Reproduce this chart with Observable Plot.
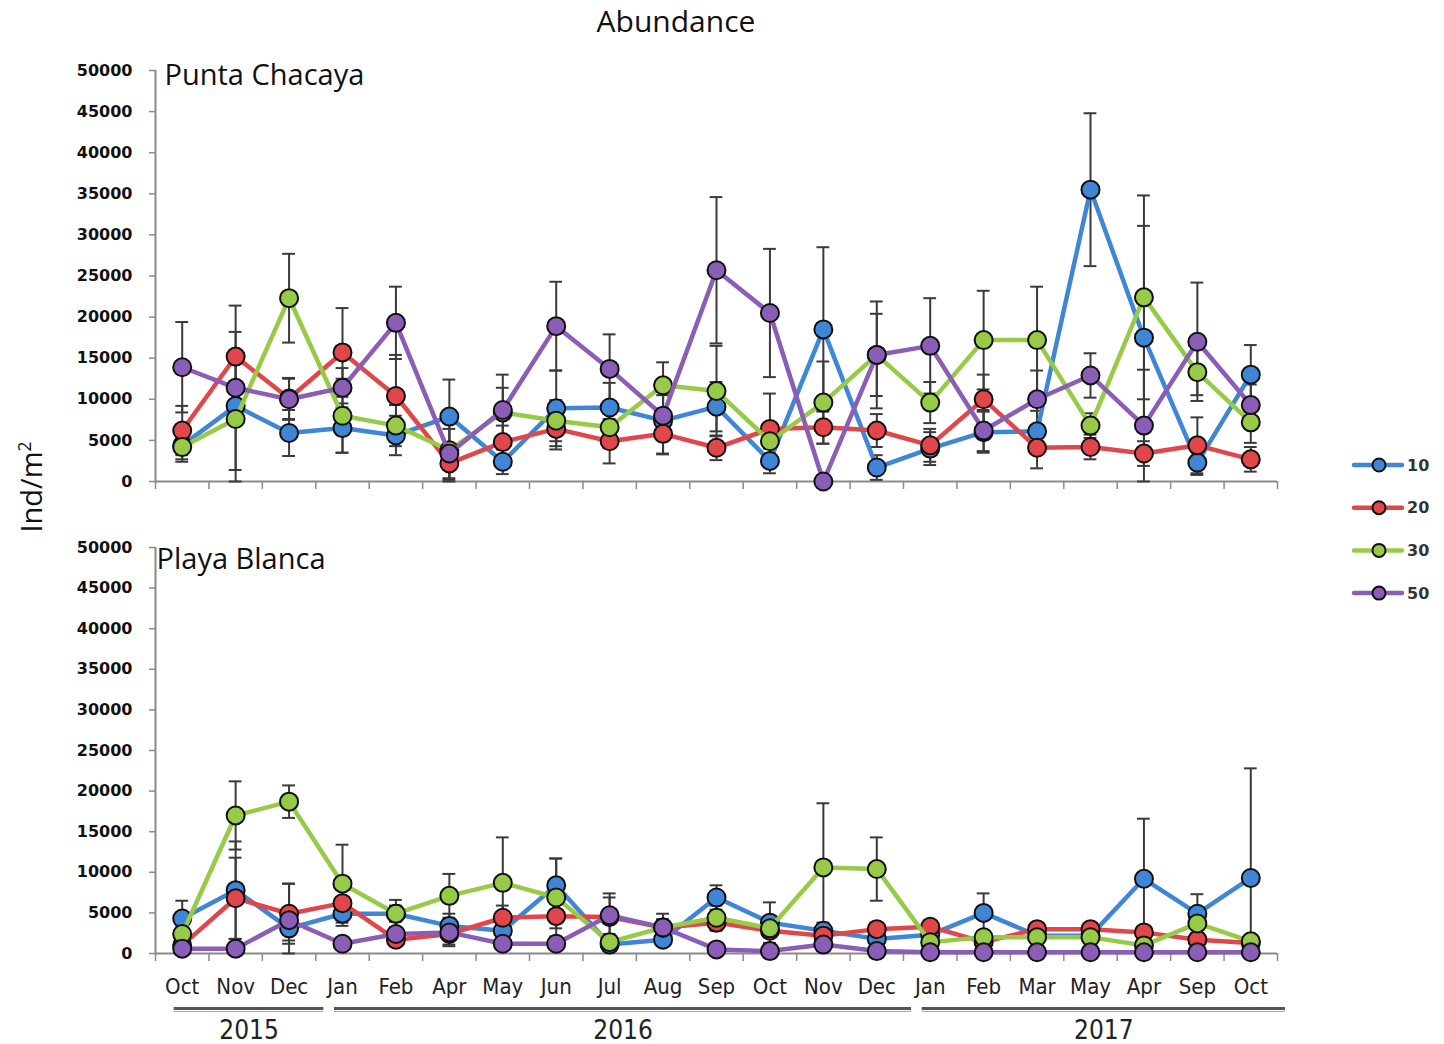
<!DOCTYPE html>
<html>
<head>
<meta charset="utf-8">
<script src="https://cdn.jsdelivr.net/npm/d3@7"></script>
<script src="https://cdn.jsdelivr.net/npm/@observablehq/plot@0.6"></script>
<style>
  html, body { margin: 0; padding: 0; background: #fff; }
  #wrap { position: relative; width: 1444px; height: 1044px; overflow: hidden; background: #fff; }
  #wrap > * { position: absolute; }
  .title { font-family: "Open Sans", Lato, sans-serif; font-size: 30px; color: #111; }
</style>
</head>
<body>
<div id="wrap"></div>
<script>
// ---------- data ----------
const months = ["Oct","Nov","Dec","Jan","Feb","Apr","May","Jun","Jul","Aug","Sep","Oct","Nov","Dec","Jan","Feb","Mar","May","Apr","Sep","Oct"];
const years = ["2015","2016","2017"];
const yearFirst = [0, 3, 14];
const yearLast = [2, 13, 20];
const seriesNames = ["10","20","30","50"];
const seriesColors = ["#3f87d6","#e0464a","#97ca47","#8a5db6"];
const yTicks = [0,5000,10000,15000,20000,25000,30000,35000,40000,45000,50000];

// Punta Chacaya means
const pc10 = [4400, 9200, 5900, 6500, 5600, 7900, 2400, 8900, 9000, 7400, 9100, 2500, 18500, 1700, 4000, 6000, 6100, 35500, 17500, 2300, 13000];
const pc20 = [6200, 15200, 10100, 15700, 10400, 2200, 4800, 6400, 4900, 5800, 4100, 6400, 6600, 6200, 4400, 10000, 4100, 4200, 3400, 4400, 2700];
const pc30 = [4200, 7600, 22300, 8000, 6800, 3800, 8400, 7400, 6600, 11700, 11000, 4900, 9600, 15400, 9600, 17200, 17200, 6800, 22400, 13300, 7200];
const pc50 = [13900, 11400, 10000, 11400, 19300, 3400, 8700, 18900, 13700, 8000, 25700, 20500, 0, 15400, 16500, 6200, 10000, 12900, 6800, 17000, 9300];
// Punta Chacaya errors
const pcE10 = [2000, 1500, 2800, 3000, 2400, 4500, 1500, 4600, 3000, 4000, 3000, 1500, 10000, 1500, 2000, 2500, 2500, 9300, 13600, 1500, 3600];
const pcE20 = [3000, 3000, 2500, 5400, 5000, 2000, 2000, 2500, 2700, 2500, 1500, 4300, 2000, 2000, 2000, 3000, 2500, 1500, 1500, 3400, 1500];
const pcE30 = [1500, 7600, 5400, 4500, 2500, 3800, 3000, 2500, 2500, 2800, 5500, 1500, 5000, 5000, 2500, 6000, 6500, 1500, 12400, 2800, 2500];
const pcE50 = [5500, 10000, 2500, 2400, 4400, 3000, 4300, 5400, 4200, 2500, 8900, 7800, 0, 6500, 5800, 2500, 3500, 2700, 6800, 7200, 2500];

// Playa Blanca means
const pb10 = [4300, 7800, 3100, 4900, 4900, 3400, 2800, 8400, 1100, 1700, 6900, 3800, 2800, 1800, 2300, 5000, 2200, 2200, 9200, 4900, 9300];
const pb20 = [1000, 6800, 4900, 6200, 1700, 2400, 4400, 4600, 4500, 3200, 3800, 2800, 2200, 3000, 3300, 1400, 3000, 3000, 2600, 1700, 1300];
const pb30 = [2400, 17000, 18700, 8600, 4900, 7100, 8700, 6900, 1400, 3200, 4400, 3100, 10600, 10400, 1400, 2000, 2000, 2000, 1000, 3700, 1500];
const pb50 = [600, 600, 4100, 1200, 2400, 2600, 1200, 1200, 4700, 3200, 500, 300, 1100, 300, 150, 150, 150, 150, 150, 150, 150];
// Playa Blanca errors
const pbE10 = [2200, 6000, 1500, 1500, 1000, 1500, 1000, 3300, 500, 500, 1500, 2500, 1000, 500, 500, 2400, 500, 500, 7400, 2400, 13500];
const pbE20 = [500, 5000, 3700, 2000, 800, 1500, 1500, 1500, 2400, 1000, 1000, 800, 800, 800, 800, 500, 500, 500, 500, 500, 300];
const pbE30 = [800, 4200, 2000, 4800, 1700, 2700, 5600, 4800, 1000, 1000, 1500, 1000, 7900, 3900, 500, 500, 500, 500, 500, 500, 500];
const pbE50 = [300, 300, 4500, 500, 500, 1500, 300, 300, 2700, 1700, 200, 200, 500, 200, 100, 100, 100, 100, 100, 100, 100];

// ---------- helpers ----------
const W = 1340, ML = 155, MR = W - 1277;
const bounds = d3.range(months.length + 1).map(i => i - 0.5);
const capHalf = 0.12;
const axisGray = "#8a8a8a";

function rows(means, errs) {
  const out = [];
  seriesNames.forEach((s, k) => means[k].forEach((v, i) => out.push({s, k, i, v, e: errs[k][i]})));
  return out;
}

function panelMarks(label, data, labelDx, labelDy) {
  const marks = [
    Plot.ruleX([-0.5], {stroke: axisGray, strokeWidth: 2}),
    Plot.ruleY([0], {stroke: axisGray, strokeWidth: 2}),
    Plot.axisY({ticks: yTicks, tickSize: 6, tickPadding: 17, tickFormat: d => String(d), label: null,
                stroke: axisGray, strokeWidth: 1.5, fill: "#111", fontWeight: "bold", fontSize: 16}),
    Plot.axisX({ticks: bounds, tickSize: 8, tickFormat: () => "", label: null, stroke: axisGray, strokeWidth: 1.5}),
    // error bars
    Plot.ruleX(data, {x: "i", y1: d => Math.max(0, d.v - d.e), y2: d => d.v + d.e, stroke: "#3a3a3a", strokeWidth: 2}),
    Plot.ruleY(data, {y: d => d.v + d.e, x1: d => d.i - capHalf, x2: d => d.i + capHalf, stroke: "#3a3a3a", strokeWidth: 2}),
    Plot.ruleY(data, {y: d => Math.max(0, d.v - d.e), x1: d => d.i - capHalf, x2: d => d.i + capHalf, stroke: "#3a3a3a", strokeWidth: 2})
  ];
  seriesNames.forEach((s, k) => {
    const sd = data.filter(d => d.s === s);
    marks.push(Plot.line(sd, {x: "i", y: "v", stroke: seriesColors[k], strokeWidth: 4.5}));
    marks.push(Plot.dot(sd, {x: "i", y: "v", r: 9, fill: seriesColors[k], stroke: "#111", strokeWidth: 2}));
  });
  marks.push(Plot.text([label], {frameAnchor: "top-left", textAnchor: "start", lineAnchor: "middle",
    dx: labelDx, dy: labelDy, fontSize: 29, fill: "#111", fontFamily: "'Open Sans', Lato, sans-serif"}));
  return marks;
}

const baseStyle = {background: "transparent", overflow: "visible", fontFamily: "'DejaVu Sans', sans-serif", fontSize: "15px"};

// ---------- top panel ----------
const topPlot = Plot.plot({
  width: W, height: 500,
  marginLeft: ML, marginRight: MR, marginTop: 70, marginBottom: 19,
  x: {domain: [-0.5, months.length - 0.5]},
  y: {domain: [0, 50000]},
  style: baseStyle,
  marks: panelMarks("Punta Chacaya", rows([pc10, pc20, pc30, pc50], [pcE10, pcE20, pcE30, pcE50]), 9, 5)
});
topPlot.style.left = "0px"; topPlot.style.top = "0px";

// ---------- bottom panel ----------
const yearRows = years.map((y, j) => ({y, a: yearFirst[j] - 0.15, b: yearLast[j] + 0.65}));
const bottomMarks = panelMarks("Playa Blanca", rows([pb10, pb20, pb30, pb50], [pbE10, pbE20, pbE30, pbE50]), 1, 12);
bottomMarks.push(
  Plot.text(months, {x: (d, i) => i, y: 0, dy: 33, text: d => d, fontSize: 22, fill: "#222",
    fontFamily: "'Liberation Sans Narrow', 'DejaVu Sans Condensed', sans-serif"}),
  Plot.ruleY(yearRows, {y: 0, x1: "a", x2: "b", dy: 55, stroke: "#555", strokeWidth: 3}),
  Plot.ruleY(yearRows, {y: 0, x1: "a", x2: "b", dy: 58, stroke: "#aaa", strokeWidth: 1}),
  Plot.text(yearRows, {x: d => (d.a + d.b) / 2, y: 0, dy: 77, text: "y", fontSize: 26, fill: "#222",
    fontFamily: "'Liberation Sans Narrow', 'DejaVu Sans Condensed', sans-serif"})
);
const bottomPlot = Plot.plot({
  width: W, height: 544,
  marginLeft: ML, marginRight: MR, marginTop: 47, marginBottom: 91,
  x: {domain: [-0.5, months.length - 0.5]},
  y: {domain: [0, 50000]},
  style: baseStyle,
  marks: bottomMarks
});
bottomPlot.style.left = "0px"; bottomPlot.style.top = "500px";

const wrap = document.getElementById("wrap");
wrap.appendChild(topPlot);
wrap.appendChild(bottomPlot);

// ---------- title & y label ----------
const title = document.createElement("div");
title.className = "title";
title.textContent = "Abundance";
title.style.left = "0px"; title.style.width = "1352px"; title.style.textAlign = "center"; title.style.top = "0px";
wrap.appendChild(title);

const ylab = document.createElement("div");
ylab.className = "title";
ylab.innerHTML = "Ind/m<sup style='font-size:0.6em'>2</sup>";
ylab.style.fontSize = "29px";
ylab.style.left = "30px"; ylab.style.top = "487px";
ylab.style.transform = "translate(-50%, -50%) rotate(-90deg)";
ylab.style.whiteSpace = "nowrap";
wrap.appendChild(ylab);

// ---------- legend ----------
const leg = d3.create("svg").attr("width", 100).attr("height", 180)
  .style("left", "1344px").style("top", "445px");
seriesNames.forEach((s, k) => {
  const g = leg.append("g").attr("transform", `translate(0, ${20 + k * 42.7})`);
  g.append("line").attr("x1", 10).attr("x2", 58).attr("y1", 0).attr("y2", 0)
    .attr("stroke", seriesColors[k]).attr("stroke-width", 4.5).attr("stroke-linecap", "round");
  g.append("circle").attr("cx", 35).attr("cy", 0).attr("r", 6.5)
    .attr("fill", seriesColors[k]).attr("stroke", "#111").attr("stroke-width", 2);
  g.append("text").attr("x", 63).attr("y", 0).attr("dy", "0.36em")
    .attr("font-family", "'DejaVu Sans', sans-serif").attr("font-weight", "bold").attr("font-size", 16)
    .attr("fill", "#333").text(s);
});
wrap.appendChild(leg.node());
</script>
</body>
</html>
